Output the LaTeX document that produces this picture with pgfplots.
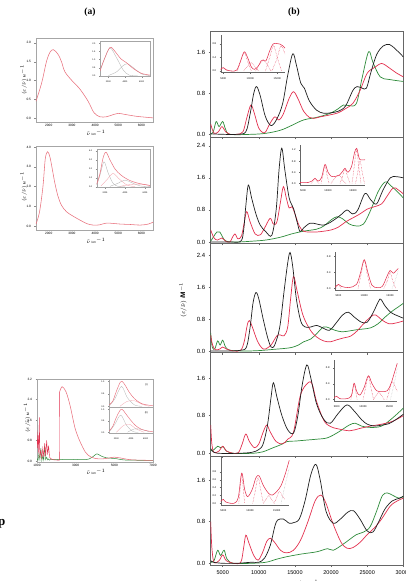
\documentclass[border=0pt]{standalone}
\usepackage{pgfplots}
\pgfplotsset{compat=1.18}
\usepackage{fontspec}
\setmainfont{Liberation Sans}
\newfontfamily\titlefont{Liberation Serif}

\definecolor{spblack}{HTML}{1E1E1E}
\definecolor{spred}{HTML}{E2304E}
\definecolor{spgreen}{HTML}{2E8B3A}
\definecolor{lred}{HTML}{E8707C}
\definecolor{lpink}{HTML}{F2A8B0}
\definecolor{lgray}{HTML}{B4B4B4}

\pgfplotsset{
  base/.style={scale only axis, no markers, clip=true, scaled ticks=false,
    /pgf/number format/assume math mode=true,
    /pgf/number format/set thousands separator={}},
  % stacked spectra of the right column
  rpanel/.style={base, width=192.6pt, xmin=3340, xmax=30000,
    axis line style={black!60, line width=0.6pt},
    tick style={black!60, line width=0.5pt}, major tick length=2pt,
    xtick={5000,10000,15000,20000,25000,30000}, xticklabels={},
    xtick pos=bottom, ytick pos=left, tick align=outside,
    yticklabel style={font=\fontsize{6}{7}\selectfont,
      /pgf/number format/.cd, fixed, fixed zerofill, precision=1}},
  rinset/.style={base, axis lines=left, axis line style={-, black!60, line width=0.4pt},
    tick style={black!60, line width=0.3pt}, major tick length=1pt, tick align=outside,
    xtick={5000,10000,15000}, 
    xticklabel style={font=\fontsize{2.6}{3}\selectfont},
    yticklabel style={font=\fontsize{2.6}{3}\selectfont,
      /pgf/number format/.cd, fixed, fixed zerofill, precision=1}},
  % band-shape panels of the left column
  lpanel/.style={base, axis line style={black!35, line width=0.5pt},
    tick style={black!45, line width=0.4pt}, major tick length=1.5pt,
    tick align=outside, xtick pos=bottom, ytick pos=left,
    xticklabel style={font=\fontsize{3.2}{3.5}\selectfont, inner sep=0.8pt},
    yticklabel style={font=\fontsize{3.2}{4}\selectfont,
      /pgf/number format/.cd, fixed, fixed zerofill, precision=1}},
  linset/.style={base, axis line style={black!35, line width=0.4pt},
    tick style={black!45, line width=0.3pt}, major tick length=1pt,
    tick align=outside, xtick pos=bottom, ytick pos=left,
    xticklabel style={font=\fontsize{2.2}{3}\selectfont},
    yticklabel style={font=\fontsize{2.2}{3}\selectfont,
      /pgf/number format/.cd, fixed, fixed zerofill, precision=1}},
  blk/.style={spblack, line width=0.7pt, smooth, tension=0.55},
  red/.style={spred, line width=0.7pt, smooth, tension=0.55},
  grn/.style={spgreen, line width=0.7pt, smooth, tension=0.55},
  band/.style={spred, densely dotted, line width=0.45pt, smooth, tension=0.6},
  ired/.style={spred, line width=0.55pt, smooth, tension=0.55},
}
\tikzset{lxlabel/.style={font=\fontsize{3}{3.2}\selectfont, inner sep=0pt, anchor=north}}

\begin{document}
\begin{tikzpicture}[x=1pt,y=1pt]
\useasboundingbox (0,0) rectangle (406,581);

% ---------------- titles and row labels ----------------
\node[font=\titlefont\bfseries\fontsize{9.5}{10}\selectfont] at (90,569) {(a)};
\node[font=\titlefont\bfseries\fontsize{9.5}{10}\selectfont] at (294,569) {(b)};
\node[font=\titlefont\bfseries\fontsize{13}{13}\selectfont, anchor=base east] at (9,55) {op};
\node[font=\titlefont\bfseries\fontsize{10}{10}\selectfont, anchor=base east] at (2.2,385) {p};
\node[font=\titlefont\bfseries\fontsize{10}{10}\selectfont, anchor=base east] at (2.2,281) {p};

% ================= right column (b) =================
% panel 1
\begin{axis}[rpanel, at={(210.7pt,443.5pt)}, anchor=south west, height=105.8pt,
  ymin=-0.062, ymax=2.0, ytick={0,0.8,1.6}]
\addplot[grn] coordinates {(3340,0.0)(3700,0.05)(4100,0.25)(4500,0.15)(5000,0.25)(5400,0.1)(6000,0.0)(9000,0.0)(11000,0.02)(13000,0.08)(14500,0.17)(16200,0.28)(18000,0.33)(19900,0.41)(21000,0.5)(21700,0.57)(22500,0.56)(23500,0.6)(24300,1.1)(25200,1.61)(25800,1.4)(26800,1.12)(28000,1.07)(30000,1.03)};
\addplot[red] coordinates {(3340,0.2)(3800,0.02)(4400,0.05)(4900,0.15)(5400,0.05)(6000,0.0)(7000,0.0)(7800,0.05)(8300,0.3)(8900,0.57)(9400,0.4)(10000,0.12)(10800,0.03)(11500,0.2)(12200,0.34)(12800,0.28)(13400,0.4)(14200,0.7)(14800,0.83)(15400,0.7)(16200,0.45)(17000,0.33)(17600,0.31)(18500,0.34)(19900,0.38)(21000,0.42)(22000,0.5)(23000,0.6)(24000,0.85)(25000,1.19)(26000,1.3)(27000,1.38)(28000,1.3)(29000,1.2)(30000,1.12)};
\addplot[blk] coordinates {(3340,0.01)(5000,0.0)(7000,0.0)(8200,0.05)(8800,0.4)(9300,0.8)(9700,0.93)(10200,0.75)(10900,0.35)(11700,0.17)(12500,0.3)(13300,0.6)(14000,1.15)(14700,1.57)(15200,1.35)(15800,1.0)(16300,0.9)(17000,0.65)(18000,0.47)(19000,0.41)(20000,0.42)(21000,0.45)(22000,0.55)(23000,0.85)(23600,0.93)(24300,0.9)(24900,0.9)(25500,1.2)(26300,1.55)(27200,1.72)(28100,1.75)(29000,1.65)(30000,1.51)};
\end{axis}
\begin{axis}[rinset, at={(220.7pt,508.3pt)}, anchor=south west, width=64.3pt, height=37.7pt,
  xmin=4520, xmax=16430, ymin=-0.05, ymax=1.07, ytick={0,0.4,0.8}]
\addplot[band] coordinates {(4520,0.03)(5000,0.1)(5500,0.03)(6000,0)};
\addplot[band] coordinates {(7600,0)(8200,0.28)(8880,0.55)(9500,0.28)(10200,0)};
\addplot[band] coordinates {(8800,0)(9500,0.15)(10200,0.25)(10900,0.12)(11500,0)};
\addplot[band] coordinates {(11000,0)(11700,0.2)(12400,0.32)(13100,0.2)(13800,0)};
\addplot[band] coordinates {(12800,0)(13600,0.4)(14300,0.75)(15000,0.4)(15800,0)};
\addplot[band] coordinates {(14000,0)(15000,0.4)(15700,0.75)(16430,0.5)};
\addplot[ired] coordinates {(4520,0.05)(5000,0.1)(5500,0.04)(6500,0.0)(7500,0.03)(8200,0.3)(8880,0.57)(9500,0.4)(10200,0.12)(10800,0.05)(11500,0.15)(12000,0.3)(12400,0.33)(12900,0.3)(13600,0.6)(14200,0.8)(14800,0.82)(15500,0.8)(16000,0.75)(16430,0.68)};
\end{axis}

% panel 2
\begin{axis}[rpanel, at={(210.7pt,337.7pt)}, anchor=south west, height=105.8pt,
  ymin=-0.032, ymax=2.606, ytick={0,0.8,1.6,2.4}]
\addplot[grn] coordinates {(3340,0.02)(3800,0.15)(4200,0.25)(4600,0.25)(5000,0.12)(5500,0.02)(7000,0.0)(9000,0.02)(11000,0.05)(13000,0.12)(14500,0.2)(16200,0.27)(18000,0.32)(19000,0.4)(20000,0.55)(20800,0.63)(21600,0.58)(22500,0.45)(23500,0.4)(24500,0.45)(25500,0.8)(26500,1.25)(27500,1.5)(28300,1.4)(29200,1.25)(30000,1.1)};
\addplot[red] coordinates {(3340,0.3)(3800,0.1)(4300,0.05)(4900,0.1)(5400,0.02)(6000,0.0)(6300,0.1)(6700,0.2)(7100,0.08)(7600,0.15)(8000,0.5)(8330,0.76)(8800,0.5)(9500,0.2)(10200,0.18)(10800,0.35)(11560,0.59)(12000,0.45)(12500,0.5)(13000,1.0)(13400,1.38)(13800,1.1)(14200,0.85)(14600,0.88)(15000,0.7)(15600,0.4)(16200,0.27)(17000,0.25)(18000,0.25)(19000,0.27)(20000,0.3)(21000,0.37)(22000,0.5)(23000,0.6)(24000,0.7)(25000,0.82)(26000,0.88)(27000,0.95)(27600,1.1)(28600,1.35)(29300,1.3)(30000,1.2)};
\addplot[blk] coordinates {(3340,0.0)(6000,0.0)(7500,0.02)(7900,0.3)(8200,0.9)(8550,1.42)(9000,1.1)(9600,0.7)(10200,0.42)(11000,0.25)(11800,0.17)(12400,0.8)(12800,1.8)(13180,2.34)(13600,1.8)(14200,1.1)(14800,0.84)(15300,0.5)(15700,0.26)(16200,0.35)(17100,0.47)(18000,0.45)(18900,0.42)(19800,0.48)(20800,0.6)(21500,0.7)(22200,0.8)(23000,0.7)(23700,0.8)(24700,1.21)(25500,1.05)(26300,0.95)(27200,1.3)(28200,1.6)(29000,1.63)(30000,1.6)};
\end{axis}
\begin{axis}[rinset, at={(300pt,396pt)}, anchor=south west, width=65pt, height=40pt,
  xmin=4400, xmax=17400, ymin=-0.06, ymax=1.38, ytick={0,0.4,0.8,1.2}]
\addplot[band] coordinates {(6600,0)(7000,0.08)(7400,0.16)(7800,0.08)(8200,0)};
\addplot[band] coordinates {(8600,0)(9000,0.3)(9400,0.65)(9800,0.3)(10200,0)};
\addplot[band] coordinates {(10600,0)(11500,0.2)(12300,0.28)(13000,0.1)(13600,0)};
\addplot[band] coordinates {(12400,0)(12900,0.25)(13400,0.5)(13900,0.25)(14400,0)};
\addplot[band] coordinates {(14800,0)(15250,0.6)(15700,1.2)(16150,0.6)(16600,0)};
\addplot[band] coordinates {(15500,0)(15950,0.4)(16400,0.8)(16850,0.4)(17300,0)};
\addplot[ired] coordinates {(4400,0.03)(6000,0.03)(6800,0.08)(7400,0.18)(8000,0.08)(8700,0.2)(9400,0.68)(10000,0.4)(10700,0.25)(11500,0.25)(12300,0.3)(13000,0.45)(13400,0.54)(14000,0.4)(14700,0.6)(15300,1.1)(15740,1.26)(16100,1.0)(16400,0.85)(17400,0.85)};
\end{axis}

% panel 3
\begin{axis}[rpanel, at={(210.7pt,228.3pt)}, anchor=south west, height=109.4pt,
  ymin=-0.0425, ymax=2.69, ytick={0,0.8,1.6,2.4}]
\addplot[grn] coordinates {(3340,0.45)(3550,0.1)(3900,0.05)(4300,0.25)(4650,0.15)(5000,0.27)(5400,0.1)(6000,0.02)(8000,0.0)(10000,0.01)(12000,0.04)(14300,0.08)(15500,0.15)(16200,0.23)(17200,0.3)(18100,0.45)(18950,0.6)(19700,0.58)(20500,0.52)(21500,0.48)(22500,0.5)(23500,0.53)(24500,0.55)(25500,0.58)(26500,0.68)(27500,0.85)(28500,1.0)(29300,1.1)(30000,1.19)};
\addplot[red] coordinates {(3340,0.4)(3600,0.15)(4000,0.03)(4600,0.05)(5000,0.1)(5500,0.05)(6500,0.0)(7500,0.02)(8000,0.25)(8400,0.65)(8700,0.76)(9100,0.6)(9800,0.25)(10400,0.08)(10900,0.05)(11700,0.15)(12500,0.38)(13000,0.4)(13500,0.38)(14000,0.6)(14400,1.3)(14800,1.86)(15300,1.5)(16100,0.9)(17100,0.53)(18000,0.35)(19000,0.25)(19900,0.23)(20800,0.28)(21800,0.33)(22700,0.37)(23600,0.5)(24600,0.7)(25600,0.87)(26200,0.9)(27000,0.78)(28000,0.68)(29000,0.7)(30000,0.75)};
\addplot[blk] coordinates {(3340,0.0)(6000,0.0)(7500,0.02)(8300,0.1)(8800,0.6)(9200,1.2)(9600,1.46)(10000,1.3)(10600,0.8)(11200,0.35)(11700,0.1)(12200,0.15)(12900,0.6)(13500,1.5)(14000,2.2)(14330,2.46)(14700,2.1)(15200,1.3)(15800,0.75)(16400,0.6)(17200,0.6)(18000,0.64)(18800,0.58)(19800,0.52)(20700,0.7)(21600,0.9)(22400,0.97)(23200,0.85)(24200,0.72)(25000,0.72)(25800,0.95)(26600,1.25)(26900,1.29)(27500,1.12)(28300,0.96)(29200,0.88)(30000,0.82)};
\end{axis}
\begin{axis}[rinset, at={(335pt,291pt)}, anchor=south west, width=63.3pt, height=38.3pt,
  xmin=4340, xmax=16600, ymin=-0.04, ymax=0.92, ytick={0,0.4,0.8}]
\addplot[band] coordinates {(4500,0)(5000,0.09)(5500,0)};
\addplot[band] coordinates {(8800,0)(9400,0.35)(10000,0.7)(10600,0.35)(11200,0)};
\addplot[band] coordinates {(13800,0)(14500,0.2)(15000,0.4)(15500,0.2)(16100,0)};
\addplot[band, lgray] coordinates {(15400,0)(16000,0.2)(16600,0.45)};
\addplot[ired] coordinates {(4340,0.03)(5000,0.1)(5600,0.05)(7000,0.02)(8500,0.1)(9300,0.4)(10000,0.72)(10700,0.4)(11500,0.08)(12500,0.02)(13500,0.05)(14400,0.3)(15000,0.45)(15600,0.38)(16000,0.42)(16600,0.5)};
\end{axis}

% panel 4
\begin{axis}[rpanel, at={(210.7pt,125pt)}, anchor=south west, height=103.3pt,
  ymin=-0.057, ymax=2.14, ytick={0,0.8,1.6}]
\addplot[grn] coordinates {(3340,0.05)(3800,0.08)(4300,0.15)(4700,0.12)(5100,0.14)(5500,0.05)(6500,0.0)(9000,0.0)(10500,0.03)(12000,0.12)(13000,0.18)(13900,0.25)(15000,0.26)(16500,0.28)(18000,0.3)(19500,0.33)(21000,0.45)(22500,0.6)(23350,0.64)(24200,0.58)(25500,0.55)(27000,0.58)(28500,0.75)(30000,0.96)};
\addplot[red] coordinates {(3340,0.6)(3500,0.2)(3800,0.02)(4500,0.05)(5000,0.15)(5500,0.05)(6500,0.0)(7200,0.02)(7700,0.2)(8200,0.41)(8700,0.25)(9400,0.12)(10000,0.2)(10600,0.45)(11100,0.6)(11600,0.45)(12400,0.25)(13300,0.2)(14000,0.3)(14800,0.45)(15700,1.2)(16500,1.45)(17300,1.5)(18000,1.1)(19000,0.7)(19900,0.57)(21000,0.52)(22600,0.48)(24000,0.53)(25500,0.58)(27000,0.62)(28500,0.68)(30000,0.8)};
\addplot[blk] coordinates {(3340,0.1)(3700,0.03)(4500,0.0)(7000,0.0)(9000,0.02)(10000,0.08)(10600,0.2)(11200,0.6)(11700,1.2)(12020,1.5)(12500,1.2)(13200,0.8)(14000,0.5)(14800,0.43)(15400,0.8)(16000,1.45)(16650,1.88)(17200,1.6)(18000,1.05)(19000,0.72)(19900,0.64)(21000,0.85)(22200,1.03)(23200,0.9)(24200,0.72)(25000,0.62)(26000,0.58)(27000,0.6)(28000,0.63)(29000,0.72)(30000,0.83)};
\end{axis}
\begin{axis}[rinset, at={(334pt,180pt)}, anchor=south west, width=63.3pt, height=41pt,
  xmin=4490, xmax=16500, ymin=-0.04, ymax=1.0, ytick={0,0.4,0.8}]
\addplot[band] coordinates {(7700,0)(8000,0.2)(8300,0.4)(8600,0.2)(8900,0)};
\addplot[band] coordinates {(10000,0)(10500,0.3)(11000,0.58)(11500,0.3)(12000,0)};
\addplot[band] coordinates {(12000,0)(12500,0.1)(13000,0.18)(13500,0.1)(14000,0)};
\addplot[band] coordinates {(14500,0)(15000,0.22)(15500,0.45)(16000,0.35)(16500,0.2)};
\addplot[band, lgray] coordinates {(15200,0)(15900,0.4)(16500,0.8)};
\addplot[ired] coordinates {(4490,0.04)(5000,0.08)(5600,0.02)(7000,0.02)(7800,0.1)(8300,0.41)(8800,0.2)(9400,0.11)(10200,0.3)(11000,0.6)(11700,0.4)(12600,0.22)(13600,0.2)(14600,0.22)(15300,0.4)(16000,0.7)(16500,0.92)};
\end{axis}

% panel 5
\begin{axis}[rpanel, at={(210.7pt,16pt)}, anchor=south west, height=109pt,
  ymin=-0.033, ymax=2.06, ytick={0,0.8,1.6},
  xticklabels={5000,10000,15000,20000,25000,30000},
  xticklabel style={font=\fontsize{5.5}{6}\selectfont}]
\addplot[grn] coordinates {(3340,0.02)(3800,0.05)(4300,0.25)(4700,0.15)(5200,0.25)(5600,0.08)(6500,0.0)(9000,0.0)(11000,0.02)(12500,0.08)(14000,0.13)(16000,0.18)(18000,0.22)(19500,0.28)(20300,0.25)(21500,0.35)(22500,0.45)(23500,0.55)(24500,0.6)(25400,0.7)(26300,1.0)(27100,1.3)(27800,1.35)(28600,1.3)(29400,1.25)(30000,1.28)};
\addplot[red] coordinates {(3340,0.8)(3500,0.3)(3800,0.02)(4500,0.05)(5000,0.16)(5500,0.05)(6500,0.0)(7500,0.02)(7900,0.3)(8200,0.54)(8600,0.4)(9300,0.15)(9900,0.06)(10500,0.2)(11100,0.42)(11600,0.48)(12200,0.4)(13000,0.25)(13800,0.2)(14800,0.25)(15800,0.45)(16800,0.8)(17800,1.2)(18600,1.31)(19300,1.15)(20300,0.75)(21400,0.4)(22200,0.29)(23000,0.3)(24000,0.4)(25000,0.55)(26000,0.68)(27000,0.85)(28200,1.1)(29200,1.2)(30000,1.25)};
\addplot[blk] coordinates {(3340,0.05)(3700,0.02)(5000,0.0)(7000,0.0)(9000,0.02)(10000,0.02)(10800,0.1)(11600,0.35)(12200,0.7)(12600,0.83)(13400,0.85)(14200,0.77)(14800,0.78)(15600,0.85)(16400,1.2)(17200,1.7)(17900,1.9)(18500,1.6)(19300,1.0)(20300,0.77)(21300,0.85)(22300,0.98)(23100,1.01)(24000,0.85)(25000,0.62)(25800,0.6)(26600,0.8)(27500,1.05)(28500,1.2)(29500,1.25)(30000,1.29)};
\end{axis}
\begin{axis}[rinset, at={(220.7pt,76pt)}, anchor=south west, width=68.6pt, height=48pt,
  xmin=4510, xmax=17350, ymin=-0.044, ymax=1.18, ytick={0,0.2,0.4,0.6,0.8}]
\addplot[band] coordinates {(7900,0)(8170,0.38)(8440,0.75)(8720,0.38)(9000,0)};
\addplot[band] coordinates {(10500,0)(11000,0.33)(11500,0.65)(12000,0.33)(12500,0)};
\addplot[band] coordinates {(12500,0)(13000,0.1)(13500,0.2)(14000,0.1)(14500,0)};
\addplot[band] coordinates {(14500,0)(15000,0.15)(15500,0.3)(16000,0.2)(16500,0.1)};
\addplot[band, lgray] coordinates {(15800,0)(16300,0.3)(16800,0.6)(17350,0.9)};
\addplot[ired] coordinates {(4510,0.05)(5000,0.1)(5500,0.03)(7000,0.0)(7800,0.15)(8440,0.77)(9000,0.35)(9560,0.17)(10400,0.35)(11100,0.65)(11700,0.7)(12500,0.45)(13500,0.25)(14200,0.21)(15000,0.3)(15800,0.45)(16600,0.75)(17350,1.1)};
\end{axis}

% shared labels of the right column
\node[rotate=90, font=\fontsize{6.5}{7}\selectfont] at (183,281) {$(\varepsilon/\tilde{\nu})$ /\textbf{M}$^{-1}$};
\node[anchor=north, font=\fontsize{6}{7}\selectfont] at (306,4.5) {$\tilde{\nu}$ /cm$^{-1}$};

% ================= left column (a) =================
% a1
\begin{axis}[lpanel, at={(36pt,459pt)}, anchor=south west, width=117pt, height=84pt,
  xmin=1450, xmax=6500, ymin=-0.1, ymax=2.13,
  xtick={2000,3000,4000,5000,6000}, ytick={0,0.5,1,1.5,2}]
\addplot[lred, line width=0.55pt, smooth, tension=0.55] coordinates {(1450,0.45)(1700,0.95)(1900,1.5)(2050,1.75)(2200,1.82)(2400,1.7)(2550,1.5)(2700,1.23)(3000,1.0)(3350,0.77)(3700,0.45)(3950,0.15)(4200,0.04)(4500,0.04)(4800,0.1)(5000,0.13)(5300,0.1)(5800,0.05)(6500,0.01)};
\end{axis}
\begin{axis}[linset, at={(100pt,504.3pt)}, anchor=south west, width=50pt, height=35pt,
  xmin=1000, xmax=7000, ymin=-0.05, ymax=2.1, xtick={2000,4000,6000}, ytick={0,0.5,1,1.5,2}]
\addplot[lgray, line width=0.35pt, smooth] coordinates {(1000,0.3)(1500,1.0)(2200,1.72)(3000,1.1)(3800,0.35)(4500,0.05)(5500,0.0)};
\addplot[lgray, line width=0.35pt, smooth] coordinates {(2000,0.02)(3000,0.25)(3700,0.6)(4300,0.75)(5000,0.5)(6000,0.12)(7000,0.02)};
\addplot[lred, line width=0.5pt, smooth, tension=0.55] coordinates {(1000,0.3)(1500,1.0)(2200,1.75)(2800,1.5)(3500,1.05)(4200,0.8)(5000,0.45)(6000,0.15)(7000,0.05)};
\end{axis}
\node[rotate=90, font=\fontsize{3.2}{4}\selectfont] at (23.5,501) {$(\varepsilon/\tilde{\nu})$ /M$^{-1}$};
\node[lxlabel] at (96,451) {$\tilde{\nu}$ /cm$^{-1}$};

% a2
\begin{axis}[lpanel, at={(36pt,351pt)}, anchor=south west, width=117pt, height=84pt,
  xmin=1450, xmax=6500, ymin=-0.2, ymax=4.05,
  xtick={2000,3000,4000,5000,6000}, ytick={0,1,2,3,4}]
\addplot[lred, line width=0.55pt, smooth, tension=0.55] coordinates {(1450,0.1)(1600,0.7)(1750,2.0)(1850,3.4)(1950,3.76)(2050,3.5)(2150,2.9)(2260,2.2)(2400,1.5)(2550,1.05)(2770,0.72)(3050,0.5)(3350,0.3)(3650,0.12)(3910,0.05)(4200,0.06)(4500,0.15)(5090,0.1)(5500,0.08)(5960,0.05)(6300,0.1)(6500,0.2)};
\end{axis}
\begin{axis}[linset, at={(96.7pt,393.3pt)}, anchor=south west, width=53.3pt, height=38.4pt,
  xmin=1170, xmax=6500, ymin=-0.1, ymax=4.2, xtick={2000,4000,6000}, ytick={0,1,2,3,4}]
\addplot[lgray, line width=0.35pt, smooth] coordinates {(1170,0.2)(1500,1.3)(1900,2.8)(2300,1.6)(2800,0.4)(3300,0.05)(4000,0)};
\addplot[lpink, line width=0.35pt, smooth] coordinates {(1600,0.1)(2200,0.8)(2800,1.5)(3400,0.9)(4200,0.2)(5000,0.02)};
\addplot[lgray, line width=0.35pt, smooth] coordinates {(2500,0.05)(3300,0.4)(4000,0.75)(4700,0.45)(5500,0.1)(6500,0.02)};
\addplot[lpink, line width=0.35pt, smooth] coordinates {(3500,0.05)(4500,0.25)(5500,0.3)(6500,0.15)};
\addplot[lred, line width=0.5pt, smooth, tension=0.55] coordinates {(1170,0.3)(1500,1.5)(1800,3.2)(2100,3.87)(2500,3.0)(3000,2.0)(3500,1.4)(4000,1.0)(4500,0.7)(5000,0.5)(5500,0.35)(6000,0.25)(6500,0.15)};
\end{axis}
\node[rotate=90, font=\fontsize{3.2}{4}\selectfont] at (23.5,394) {$(\varepsilon/\tilde{\nu})$ /M$^{-1}$};
\node[lxlabel] at (96,343) {$\tilde{\nu}$ /cm$^{-1}$};

% a3
\begin{axis}[lpanel, at={(37pt,119pt)}, anchor=south west, width=116pt, height=83pt,
  xmin=1000, xmax=7000, ymin=-0.04, ymax=3.2,
  xtick={1000,3000,5000,7000}, ytick={0,0.8,1.6,2.4,3.2}]
\addplot[spgreen, line width=0.4pt] coordinates {(1000,0.1)(1050,0.02)(1100,0.3)(1150,0.05)(1200,0.5)(1250,0.02)(1300,0.2)(1350,0.03)(1400,0.6)(1450,0.05)(1500,0.15)(1550,0.04)(1600,0.08)(1650,0.03)(1700,0.06)(1800,0.05)};
\addplot[spgreen, line width=0.5pt, smooth] coordinates {(1800,0.05)(2200,0.06)(2600,0.05)(3000,0.06)(3400,0.05)(3700,0.08)(3950,0.2)(4100,0.28)(4300,0.2)(4600,0.12)(5000,0.1)(5500,0.04)(6000,0.03)(7000,0.02)};
\addplot[spred, line width=0.4pt] coordinates {(1000,1.2)(1030,0.5)(1060,1.0)(1090,0.3)(1120,1.7)(1150,0.2)(1200,0.4)(1250,0.1)(1300,0.5)(1350,0.15)(1400,0.7)(1450,0.2)(1500,0.8)(1550,0.25)(1600,0.6)(1650,0.15)(1700,0.1)(1800,0.05)(1950,0.04)(2160,0.03)(2170,2.7)};
\addplot[lred, line width=0.55pt, smooth, tension=0.55] coordinates {(2170,2.7)(2300,2.9)(2500,2.7)(2700,2.2)(2900,1.5)(3000,1.2)(3200,0.8)(3500,0.35)(3800,0.15)(4200,0.08)(4600,0.1)(5000,0.15)(5300,0.12)(5800,0.05)(6500,0.03)(7000,0.02)};
\end{axis}
\begin{axis}[linset, at={(109pt,174pt)}, anchor=south west, width=44pt, height=28pt,
  xmin=1000, xmax=7000, ymin=-0.03, ymax=1.1, xtick={2000,4000,6000}, ytick={0,0.5,1}, xticklabels={}]
\addplot[lgray, line width=0.3pt, smooth] coordinates {(1000,0)(1800,0.3)(2700,0.8)(3500,0.35)(4500,0.05)(5500,0)};
\addplot[lpink, line width=0.3pt, smooth] coordinates {(2500,0)(3500,0.2)(4500,0.22)(5500,0.08)(6500,0)};
\addplot[lred, line width=0.45pt, smooth] coordinates {(1000,0.05)(1500,0.2)(2000,0.6)(2500,0.95)(2800,1.0)(3200,0.85)(3800,0.55)(4500,0.3)(5500,0.1)(7000,0.02)};
\node[font=\fontsize{2.6}{3}\selectfont, anchor=north east] at (rel axis cs:0.96,0.95) {(i)};
\end{axis}
\begin{axis}[linset, at={(109pt,148pt)}, anchor=south west, width=44pt, height=26pt,
  xmin=1000, xmax=7000, ymin=-0.03, ymax=1.1, xtick={2000,4000,6000}, ytick={0,0.5,1}]
\addplot[lgray, line width=0.3pt, smooth] coordinates {(1000,0)(1800,0.35)(2600,0.75)(3400,0.3)(4300,0.03)(5000,0)};
\addplot[lpink, line width=0.3pt, smooth] coordinates {(2000,0)(3000,0.3)(3800,0.35)(4700,0.15)(5800,0)};
\addplot[lgray, line width=0.3pt, smooth] coordinates {(3500,0)(4500,0.15)(5500,0.12)(6500,0.02)};
\addplot[lred, line width=0.45pt, smooth] coordinates {(1000,0.05)(1500,0.25)(2000,0.65)(2500,0.95)(2800,1.0)(3300,0.8)(3900,0.55)(4600,0.3)(5500,0.12)(7000,0.02)};
\node[font=\fontsize{2.6}{3}\selectfont, anchor=north east] at (rel axis cs:0.96,0.95) {(ii)};
\end{axis}
\node[rotate=90, font=\fontsize{3.2}{4}\selectfont] at (27,163) {$(\varepsilon/\tilde{\nu})$ /M$^{-1}$};
\node[lxlabel] at (96,112) {$\tilde{\nu}$ /cm$^{-1}$};

\end{tikzpicture}
\end{document}
